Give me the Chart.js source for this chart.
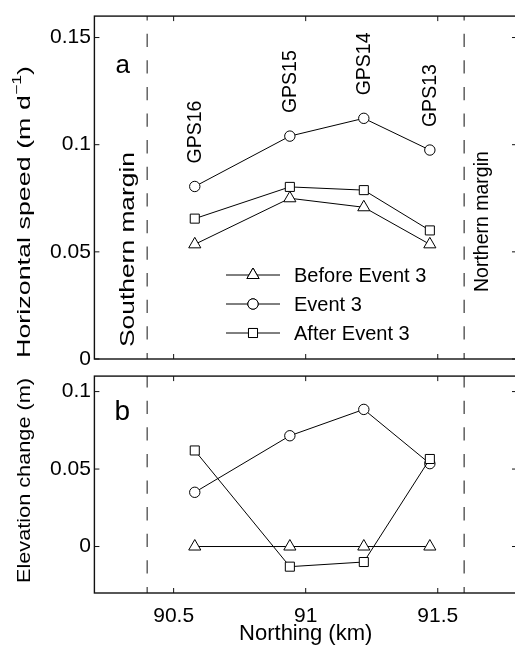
<!DOCTYPE html>
<html>
<head>
<meta charset="utf-8">
<script src="https://cdn.jsdelivr.net/npm/chart.js@4.4.1/dist/chart.umd.min.js"></script>
<style>
  html, body { margin: 0; padding: 0; background: #fff; width: 515px; height: 654px; overflow: hidden; position: relative; }
  #chartA { position: absolute; left: 0; top: 0; }
  #chartB { position: absolute; left: 0; top: 360px; }
</style>
</head>
<body>
<canvas id="chartA" width="525" height="380"></canvas>
<canvas id="chartB" width="525" height="294"></canvas>
<script>
// stations, along-flow position (km)
const stations = ['GPS16', 'GPS15', 'GPS14', 'GPS13'];
const northing = [90.58, 90.94, 91.22, 91.47];
const seriesNames = ['Before Event 3', 'Event 3', 'After Event 3'];

// panel a: horizontal speed (m/d)
const speedBefore = [0.0535, 0.075, 0.0708, 0.0535];
const speedEvent = [0.0805, 0.104, 0.1123, 0.0975];
const speedAfter = [0.0655, 0.0803, 0.0788, 0.060];

// panel b: elevation change (m)
const elevBefore = [0, 0, 0, 0];
const elevEvent = [0.035, 0.0715, 0.0885, 0.0535];
const elevAfter = [0.062, -0.013, -0.010, 0.0565];

// margins of the lake
const margins = [90.4, 91.6];
const marginNames = ['Southern margin', 'Northern margin'];

const xTicks = [90.5, 91, 91.5];
const speedTicks = [0, 0.05, 0.1, 0.15];
const elevTicks = [0, 0.05, 0.1];

const FONT = "'Liberation Sans', Arial, Helvetica, sans-serif";
Chart.defaults.font.family = FONT;
Chart.defaults.font.size = 21;
Chart.defaults.color = '#000';

const markerStyles = ['triangle', 'circle', 'rect'];
const markerSizes = [7, 5.2, 6.4];

function seriesSets(values) {
  return values.map((vals, k) => ({
    label: seriesNames[k],
    data: northing.map((x, i) => ({ x: x, y: vals[i] })),
    borderColor: '#000',
    borderWidth: 1,
    tension: 0,
    pointStyle: markerStyles[k],
    pointRadius: markerSizes[k],
    pointHoverRadius: markerSizes[k],
    pointBackgroundColor: '#fff',
    pointBorderColor: '#000',
    pointBorderWidth: 1,
    order: 2 - k
  }));
}

function marginSets(yMin, yMax, dashOffset) {
  return margins.map(m => ({
    label: 'margin',
    data: [{ x: m, y: yMax }, { x: m, y: yMin }],
    borderColor: '#6a6a6a',
    borderWidth: 1.6,
    borderDash: [13.3, 13.3],
    borderDashOffset: dashOffset,
    pointRadius: 0,
    order: 5
  }));
}

function tickList(list) {
  return s => { s.ticks = list.map(v => ({ value: v })); };
}

// box round the axes, ticks pointing inward on all four sides
const framePlugin = {
  id: 'frame',
  afterDatasetsDraw(chart) {
    const { ctx, chartArea: a, scales } = chart;
    ctx.save();
    ctx.strokeStyle = '#111';
    ctx.lineWidth = 1.4;
    ctx.strokeRect(a.left, a.top, a.right - a.left, a.bottom - a.top);
    ctx.lineWidth = 1;
    ctx.beginPath();
    scales.x.ticks.forEach(t => {
      const px = scales.x.getPixelForValue(t.value);
      ctx.moveTo(px, a.bottom); ctx.lineTo(px, a.bottom - 5);
      ctx.moveTo(px, a.top); ctx.lineTo(px, a.top + 5);
    });
    scales.y.ticks.forEach(t => {
      const py = scales.y.getPixelForValue(t.value);
      ctx.moveTo(a.left, py); ctx.lineTo(a.left + 5, py);
      ctx.moveTo(a.right, py); ctx.lineTo(a.right - 5, py);
    });
    ctx.stroke();
    ctx.restore();
  }
};

// vertical text reading upwards; runs allow a raised superscript,
// length (optional) stretches the run along the text direction
function drawUp(ctx, runs, x, y, length, align) {
  ctx.save();
  let total = 0;
  runs.forEach(r => { ctx.font = r.size + 'px ' + FONT; r.w = ctx.measureText(r.text).width; total += r.w; });
  const k = length ? length / total : 1;
  ctx.translate(x, y);
  ctx.rotate(-Math.PI / 2);
  ctx.scale(k, 1);
  ctx.textAlign = 'left';
  ctx.textBaseline = 'middle';
  let pos = align === 'center' ? -total / 2 : 0;
  runs.forEach(r => {
    ctx.font = r.size + 'px ' + FONT;
    ctx.fillText(r.text, pos, r.dy || 0);
    pos += r.w;
  });
  ctx.restore();
}

const textA = {
  id: 'textA',
  afterDraw(chart) {
    const { ctx, chartArea: a, scales: { x, y } } = chart;
    ctx.save();
    ctx.fillStyle = '#000';
    ctx.font = '26px ' + FONT;
    ctx.textAlign = 'left';
    ctx.textBaseline = 'alphabetic';
    ctx.fillText('a', a.left + 21, a.top + 57);

    // axis title with superscript
    drawUp(ctx, [
      { text: 'Horizontal speed (m d', size: 19 },
      { text: '\u22121', size: 12.5, dy: -7 },
      { text: ')', size: 19 }
    ], 25, 212, 292, 'center');

    // station names above the Event 3 points
    stations.forEach((s, i) => {
      drawUp(ctx, [{ text: s, size: 19.5 }], x.getPixelForValue(northing[i]) + 1, y.getPixelForValue(speedEvent[i]) - 23);
    });
    // margin names
    drawUp(ctx, [{ text: marginNames[0], size: 19.5 }], x.getPixelForValue(margins[0]) - 19, a.bottom - 12, 195);
    drawUp(ctx, [{ text: marginNames[1], size: 19.5 }], x.getPixelForValue(margins[1]) + 18.5, a.bottom - 67);

    // legend
    const rows = [275, 304, 333];
    chart.data.datasets.slice(0, 3).forEach((ds, k) => {
      const ry = rows[k];
      ctx.strokeStyle = '#000';
      ctx.lineWidth = 1;
      ctx.beginPath();
      ctx.moveTo(226, ry); ctx.lineTo(280, ry);
      ctx.stroke();
      ctx.fillStyle = '#fff';
      Chart.helpers.drawPoint(ctx, { pointStyle: ds.pointStyle, radius: ds.pointRadius, borderWidth: 1, rotation: 0 }, 253, ry);
      ctx.fill();
      ctx.stroke();
      ctx.fillStyle = '#000';
      ctx.font = '20px ' + FONT;
      ctx.textAlign = 'left';
      ctx.textBaseline = 'middle';
      ctx.fillText(ds.label, 294, ry + 1);
    });
    ctx.restore();
  }
};

const textB = {
  id: 'textB',
  afterDraw(chart) {
    const { ctx, chartArea: a } = chart;
    ctx.save();
    ctx.fillStyle = '#000';
    ctx.font = '28px ' + FONT;
    ctx.textAlign = 'left';
    ctx.textBaseline = 'alphabetic';
    ctx.fillText('b', a.left + 20, a.top + 44);
    drawUp(ctx, [{ text: 'Elevation change (m)', size: 19 }], 25, 120.5, 205, 'center');
    ctx.restore();
  }
};

const noGrid = { display: false, drawTicks: false };

new Chart(document.getElementById('chartA'), {
  type: 'line',
  data: { datasets: seriesSets([speedBefore, speedEvent, speedAfter]).concat(marginSets(0, 0.16, 9)) },
  options: {
    responsive: false,
    animation: false,
    layout: { padding: { top: 8, right: 6, left: 0, bottom: 0 } },
    plugins: { legend: { display: false }, tooltip: { enabled: false } },
    scales: {
      x: {
        type: 'linear', min: 90.2, max: 91.8,
        afterBuildTicks: tickList(xTicks),
        ticks: { display: false },
        grid: noGrid, border: { display: false },
        afterFit: s => { s.height = 21; }
      },
      y: {
        type: 'linear', min: 0, max: 0.16,
        afterBuildTicks: tickList(speedTicks),
        ticks: { padding: 3.5, callback: v => String(v) },
        grid: noGrid, border: { display: false },
        afterFit: s => { s.width = 94.4; }
      }
    }
  },
  plugins: [framePlugin, textA]
});

new Chart(document.getElementById('chartB'), {
  type: 'line',
  data: { datasets: seriesSets([elevBefore, elevEvent, elevAfter]).concat(marginSets(-0.03, 0.11, 2)) },
  options: {
    responsive: false,
    animation: false,
    layout: { padding: { top: 8, right: 6, left: 0, bottom: 0 } },
    plugins: { legend: { display: false }, tooltip: { enabled: false } },
    scales: {
      x: {
        type: 'linear', min: 90.2, max: 91.8,
        afterBuildTicks: tickList(xTicks),
        ticks: { padding: 10.5, callback: v => String(v) },
        grid: noGrid, border: { display: false },
        title: { display: true, text: 'Northing (km)', font: { size: 22 }, padding: { top: 0, bottom: 7.3 } },
        afterFit: s => { s.height = 61; }
      },
      y: {
        type: 'linear', min: -0.03, max: 0.11,
        afterBuildTicks: tickList(elevTicks),
        ticks: { padding: 3.5, callback: v => String(v) },
        grid: noGrid, border: { display: false },
        afterFit: s => { s.width = 94.4; }
      }
    }
  },
  plugins: [framePlugin, textB]
});
</script>
</body>
</html>
